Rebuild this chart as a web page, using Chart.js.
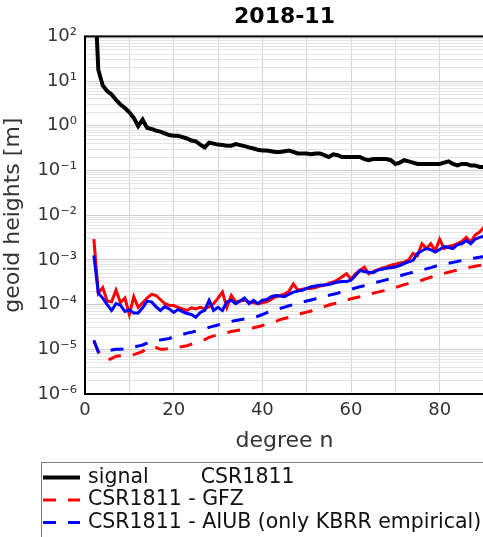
<!DOCTYPE html>
<html>
<head>
<meta charset="utf-8">
<script src="https://cdn.jsdelivr.net/npm/chart.js@4.4.1/dist/chart.umd.min.js"></script>
<style>
  html, body { margin: 0; padding: 0; background: #fff; overflow: hidden; }
  #wrap { position: relative; width: 490px; height: 537px; }
</style>
</head>
<body>
<div id="wrap"><canvas id="chart" width="490" height="537"></canvas></div>
<script>
// degree n (x)
const degrees = [2, 3, 4, 5, 6, 7, 8, 9, 10, 11, 12, 13, 14, 15, 16, 17, 18, 19, 20,
  21, 22, 23, 24, 25, 26, 27, 28, 29, 30, 31, 32, 33, 34, 35, 36, 37, 38, 39, 40,
  41, 42, 43, 44, 45, 46, 47, 48, 49, 50, 51, 52, 53, 54, 55, 56, 57, 58, 59, 60,
  61, 62, 63, 64, 65, 66, 67, 68, 69, 70, 71, 72, 73, 74, 75, 76, 77, 78, 79, 80,
  81, 82, 83, 84, 85, 86, 87, 88, 89, 90];

// signal CSR1811 (n = 2..90)
const signal = [3000, 18, 8, 6, 5, 3.8, 3.0, 2.5, 2.0, 1.5, 0.98, 1.38, 0.9, 0.85, 0.78, 0.74, 0.68, 0.62, 0.6,
  0.6, 0.56, 0.52, 0.47, 0.45, 0.38, 0.33, 0.42, 0.40, 0.38, 0.37, 0.36, 0.36, 0.39, 0.37, 0.35, 0.33, 0.31, 0.29, 0.28,
  0.28, 0.27, 0.26, 0.26, 0.27, 0.28, 0.26, 0.24, 0.24, 0.24, 0.23, 0.24, 0.24, 0.22, 0.2, 0.23, 0.22, 0.2, 0.2, 0.2,
  0.2, 0.2, 0.18, 0.17, 0.18, 0.18, 0.18, 0.18, 0.17, 0.14, 0.15, 0.17, 0.16, 0.15, 0.14, 0.14, 0.14, 0.14, 0.14, 0.14,
  0.15, 0.16, 0.14, 0.13, 0.14, 0.14, 0.13, 0.13, 0.12, 0.12];

// CSR1811 - GFZ, solid
const diffGfz = [2.9e-3, 1.8e-4, 2.4e-4, 1.2e-4, 1.15e-4, 2.1e-4, 1.1e-4, 1.4e-4, 6.0e-5, 1.5e-4, 8.7e-5, 1.1e-4, 1.4e-4, 1.7e-4, 1.6e-4, 1.3e-4, 1.05e-4, 9.7e-5, 9.5e-5,
  8.7e-5, 8.0e-5, 7.4e-5, 8.5e-5, 8.0e-5, 8.7e-5, 8.0e-5, 9.0e-5, 1.05e-4, 1.4e-4, 1.9e-4, 8.7e-5, 1.6e-4, 1.15e-4, 1.2e-4, 1.25e-4, 1.15e-4, 1.1e-4, 1.05e-4, 1.1e-4,
  1.15e-4, 1.3e-4, 1.5e-4, 1.6e-4, 1.7e-4, 2.0e-4, 2.9e-4, 2.1e-4, 2.2e-4, 2.3e-4, 2.3e-4, 2.4e-4, 2.6e-4, 2.7e-4, 3.0e-4, 3.2e-4, 3.6e-4, 4.2e-4, 4.9e-4, 3.7e-4,
  4.9e-4, 5.8e-4, 6.9e-4, 4.9e-4, 5.5e-4, 6.0e-4, 6.5e-4, 7.0e-4, 7.6e-4, 8.0e-4, 8.5e-4, 8.9e-4, 1.0e-3, 1.4e-3, 1.25e-3, 2.3e-3, 1.8e-3, 2.3e-3, 1.6e-3, 2.9e-3,
  1.8e-3, 2.0e-3, 2.1e-3, 2.3e-3, 2.6e-3, 3.2e-3, 2.5e-3, 3.6e-3, 4.2e-3, 5.4e-3];

// CSR1811 - AIUB, solid
const diffAiub = [1.26e-3, 1.8e-4, 1.4e-4, 1.0e-4, 7.4e-5, 1.05e-4, 9.7e-5, 7.0e-5, 7.6e-5, 6.5e-5, 6.5e-5, 8.5e-5, 1.2e-4, 1.15e-4, 9.0e-5, 7.4e-5, 9.0e-5, 8.0e-5, 6.7e-5,
  7.8e-5, 7.0e-5, 6.3e-5, 6.0e-5, 5.2e-5, 6.7e-5, 7.4e-5, 1.25e-4, 7.4e-5, 8.7e-5, 7.4e-5, 1.15e-4, 1.25e-4, 1.05e-4, 1.2e-4, 1.4e-4, 1.05e-4, 1.25e-4, 1.05e-4, 1.25e-4,
  1.3e-4, 1.5e-4, 1.6e-4, 1.55e-4, 1.5e-4, 1.7e-4, 1.9e-4, 2.0e-4, 2.1e-4, 2.3e-4, 2.5e-4, 2.6e-4, 2.7e-4, 2.75e-4, 2.8e-4, 3.0e-4, 3.2e-4, 3.3e-4, 3.3e-4, 3.5e-4,
  4.5e-4, 5.8e-4, 5.5e-4, 5.3e-4, 5.2e-4, 5.9e-4, 6.2e-4, 6.5e-4, 6.7e-4, 6.9e-4, 7.5e-4, 8.3e-4, 9.0e-4, 9.8e-4, 1.4e-3, 1.6e-3, 1.8e-3, 1.7e-3, 1.5e-3, 1.7e-3,
  2.0e-3, 1.9e-3, 1.8e-3, 2.2e-3, 2.3e-3, 2.7e-3, 2.3e-3, 2.9e-3, 3.2e-3, 3.4e-3];

// CSR1811 - GFZ, dashed
const errGfz = [1.5e-5, 9.0e-6, 6.5e-6, 5.8e-6, 6.2e-6, 7.0e-6, 7.2e-6, 7.3e-6, 7.4e-6, 7.6e-6, 8.2e-6, 9.0e-6, 1.05e-5, 1.2e-5, 1.1e-5, 1.0e-5, 1.0e-5, 1.05e-5, 1.1e-5,
  1.12e-5, 1.15e-5, 1.2e-5, 1.3e-5, 1.4e-5, 1.5e-5, 1.65e-5, 1.85e-5, 2.0e-5, 2.1e-5, 2.2e-5, 2.35e-5, 2.5e-5, 2.6e-5, 2.7e-5, 2.8e-5, 2.95e-5, 3.05e-5, 3.2e-5, 3.4e-5,
  3.65e-5, 3.9e-5, 4.2e-5, 4.6e-5, 4.9e-5, 5.2e-5, 5.6e-5, 6.0e-5, 6.4e-5, 6.8e-5, 7.2e-5, 7.7e-5, 8.3e-5, 9.0e-5, 9.8e-5, 1.04e-4, 1.08e-4, 1.15e-4, 1.25e-4, 1.35e-4,
  1.42e-4, 1.5e-4, 1.6e-4, 1.7e-4, 1.8e-4, 1.9e-4, 2.0e-4, 2.1e-4, 2.25e-4, 2.4e-4, 2.6e-4, 2.8e-4, 2.95e-4, 3.1e-4, 3.3e-4, 3.5e-4, 3.8e-4, 4.1e-4, 4.4e-4, 4.7e-4,
  5.0e-4, 5.3e-4, 5.6e-4, 5.9e-4, 6.3e-4, 6.6e-4, 6.9e-4, 7.2e-4, 7.5e-4, 7.7e-4];

// CSR1811 - AIUB (only KBRR empirical), dashed
const errAiub = [1.6e-5, 8.7e-6, 9.0e-6, 9.3e-6, 9.6e-6, 1.0e-5, 1.0e-5, 1.03e-5, 1.08e-5, 1.13e-5, 1.18e-5, 1.25e-5, 1.38e-5, 1.55e-5, 1.6e-5, 1.62e-5, 1.68e-5, 1.75e-5, 1.9e-5,
  2.05e-5, 2.15e-5, 2.3e-5, 2.4e-5, 2.55e-5, 2.7e-5, 2.9e-5, 3.1e-5, 3.3e-5, 3.5e-5, 3.75e-5, 4.0e-5, 4.2e-5, 4.4e-5, 4.6e-5, 4.8e-5, 5.0e-5, 5.2e-5, 5.5e-5, 6.0e-5,
  6.6e-5, 7.2e-5, 7.8e-5, 8.2e-5, 8.8e-5, 9.4e-5, 1.0e-4, 1.07e-4, 1.13e-4, 1.2e-4, 1.27e-4, 1.35e-4, 1.45e-4, 1.55e-4, 1.62e-4, 1.7e-4, 1.8e-4, 1.95e-4, 2.1e-4, 2.2e-4,
  2.35e-4, 2.5e-4, 2.65e-4, 2.8e-4, 3.0e-4, 3.2e-4, 3.4e-4, 3.6e-4, 3.85e-4, 4.1e-4, 4.4e-4, 4.7e-4, 5.0e-4, 5.3e-4, 5.6e-4, 5.9e-4, 6.3e-4, 6.7e-4, 7.2e-4, 7.6e-4,
  8.0e-4, 8.4e-4, 8.8e-4, 9.2e-4, 9.7e-4, 1.0e-3, 1.05e-3, 1.1e-3, 1.15e-3, 1.2e-3];

// ticks
const xTickLabels = [0, 20, 40, 60, 80];
const yDecades = [1e-6, 1e-5, 1e-4, 1e-3, 1e-2, 1e-1, 1, 10, 100];
const yTickLabels = ["10⁻⁶", "10⁻⁵", "10⁻⁴", "10⁻³", "10⁻²", "10⁻¹", "10⁰", "10¹", "10²"];

// only these three are visible in the legend box
const legendLabels = ["signal        CSR1811", "CSR1811 - GFZ", "CSR1811 - AIUB (only KBRR empirical)"];

const FONT = "'DejaVu Sans', sans-serif";
const dash = [13, 12];

function pts(vals) {
  return degrees.map((n, i) => ({ x: n, y: vals[i] }));
}

// frame round the plot (matplotlib style spines)
const framePlugin = {
  id: "frame",
  afterDatasetsDraw(chart) {
    const { ctx, chartArea: a } = chart;
    ctx.save();
    ctx.strokeStyle = "#000";
    ctx.lineWidth = 2;
    ctx.strokeRect(a.left, a.top, a.right - a.left, a.bottom - a.top);
    ctx.restore();
  },
};

// legend box below the axes, one entry per row
const boxLegend = {
  id: "boxLegend",
  afterDraw(chart) {
    const ctx = chart.ctx;
    const left = 41.5, top = 462.5, rowH = 22.5;
    ctx.save();
    ctx.strokeStyle = "#808080";
    ctx.lineWidth = 1;
    ctx.strokeRect(left, top, 470, 120);
    ctx.font = "20.5px " + FONT;
    ctx.textBaseline = "middle";
    legendLabels.forEach((lab, i) => {
      const ds = chart.data.datasets.find((d) => d.label === lab);
      const y = top + 15 + i * rowH;
      ctx.strokeStyle = ds.borderColor;
      ctx.lineWidth = ds.borderWidth;
      ctx.setLineDash(ds.borderDash || []);
      ctx.beginPath();
      ctx.moveTo(43, y);
      ctx.lineTo(80, y);
      ctx.stroke();
      ctx.setLineDash([]);
      ctx.fillStyle = "#111";
      ctx.fillText(lab, 88, y);
    });
    ctx.restore();
  },
};

const ctx = document.getElementById("chart");
const chart = new Chart(ctx, {
  type: "line",
  data: {
    datasets: [
      { label: legendLabels[0], data: pts(signal), borderColor: "#000", borderWidth: 4 },
      { label: "CSR1811 - AIUB difference", data: pts(diffAiub), borderColor: "#0000ff", borderWidth: 3 },
      { label: "CSR1811 - GFZ difference", data: pts(diffGfz), borderColor: "#ff0000", borderWidth: 3 },
      { label: legendLabels[2], data: pts(errAiub), borderColor: "#0000ff", borderWidth: 3, borderDash: dash },
      { label: legendLabels[1], data: pts(errGfz), borderColor: "#ff0000", borderWidth: 3, borderDash: dash },
    ],
  },
  options: {
    responsive: false,
    animation: false,
    datasets: { line: { pointRadius: 0, tension: 0, fill: false, clip: 0 } },
    layout: { padding: { left: 0, right: 4.5, top: 0, bottom: 83 } },
    plugins: {
      legend: { display: false },
      tooltip: { enabled: false },
      title: {
        display: true,
        fullSize: false,
        text: "2018-11",
        color: "#000",
        font: { family: FONT, size: 22, weight: "bold" },
        padding: { top: 4, bottom: 6 },
      },
    },
    scales: {
      x: {
        type: "linear",
        min: 0,
        max: 90,
        ticks: {
          stepSize: 10,
          autoSkip: false,
          maxRotation: 0,
          padding: 6,
          color: "#333",
          font: { family: FONT, size: 18 },
          callback: (v) => (xTickLabels.includes(v) ? String(v) : ""),
        },
        grid: { color: "#d4d4d4", drawTicks: false },
        border: { display: false },
        title: {
          display: true,
          text: "degree n",
          color: "#333",
          font: { family: FONT, size: 22 },
          padding: { top: 0, bottom: 0 },
        },
      },
      y: {
        type: "logarithmic",
        min: 1e-6,
        max: 100,
        afterBuildTicks: (scale) => {
          const t = [];
          yDecades.forEach((d, i) => {
            t.push({ value: d, major: true });
            if (i < yDecades.length - 1) {
              for (let m = 2; m <= 9; m++) t.push({ value: d * m, major: false });
            }
          });
          scale.ticks = t;
        },
        afterFit: (scale) => {
          scale.width = 85;
        },
        ticks: {
          autoSkip: false,
          padding: 8,
          color: "#333",
          font: { family: FONT, size: 18 },
          callback: (v) => {
            const i = yDecades.findIndex((d) => Math.abs(d - v) / d < 1e-6);
            return i >= 0 ? yTickLabels[i] : "";
          },
        },
        grid: {
          drawTicks: false,
          color: (c) => (c.tick && c.tick.major ? "#cccccc" : "#e4e4e4"),
        },
        border: { display: false },
        title: {
          display: true,
          text: "geoid heights [m]",
          color: "#333",
          font: { family: FONT, size: 22 },
          padding: { top: 0, bottom: 0 },
        },
      },
    },
  },
  plugins: [framePlugin, boxLegend],
});
</script>
</body>
</html>
